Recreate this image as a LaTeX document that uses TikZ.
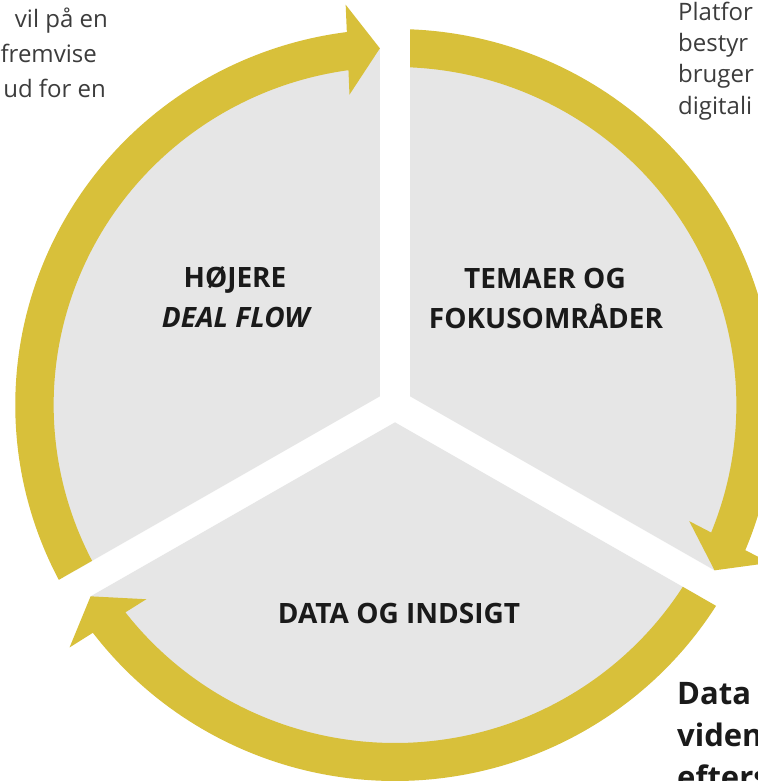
\documentclass[tikz,border=0pt]{standalone}
\usepackage{fontspec}
\setmainfont{Open Sans}
\usetikzlibrary{calc}
\definecolor{ringcol}{RGB}{216,192,58}
\definecolor{sectorcol}{RGB}{230,230,230}
\definecolor{smalltxt}{RGB}{60,60,60}
\definecolor{labeltxt}{RGB}{26,26,26}
\tikzset{
  label28/.style={inner sep=0pt, anchor=base, text=labeltxt, font=\bfseries\fontsize{28}{34}\selectfont},
  smallW/.style={inner sep=0pt, anchor=base west, text=smalltxt, font=\fontsize{24}{30}\selectfont},
  smallE/.style={inner sep=0pt, anchor=base east, text=smalltxt, font=\fontsize{24}{30}\selectfont},
  bigW/.style={inner sep=0pt, anchor=base west, text=labeltxt, font=\bfseries\fontsize{31}{38}\selectfont},
}
\newcommand{\sectorfill}[1]{%
  \pgfmathsetmacro\sA{#1-60+2.408}%
  \pgfmathsetmacro\sB{#1+60-2.408}%
  \fill[sectorcol] (#1:17.32) -- (\sA:357) arc[start angle=\sA, end angle=\sB, radius=357] -- cycle;}
\newcommand{\cyclearrow}[1]{%
  \pgfmathsetmacro\tA{#1+60-2.287}%
  \pgfmathsetmacro\tB{#1+60-2.544}%
  \pgfmathsetmacro\hT{#1-60+2.408}%
  \pgfmathsetmacro\hO{\hT+4.88}%
  \pgfmathsetmacro\hI{\hT+5.43}%
  \pgfmathsetmacro\hN{\hT+90}%
  \fill[ringcol] (\tA:376) arc[start angle=\tA, end angle=\hO, radius=376]
    -- ($(\hT:402)+(\hN:32)$) -- (\hT:357) -- ($(\hT:312)+(\hN:32)$)
    -- (\hI:338) arc[start angle=\hI, end angle=\tB, radius=338] -- cycle;}
\begin{document}
\begin{tikzpicture}[x=1pt,y=1pt]
\useasboundingbox (0,0) rectangle (757,-781);
\fill[white] (0,0) rectangle (757,-781);
\begin{scope}[shift={(395,-405)}, xscale=1.01]
  \sectorfill{150}
  \sectorfill{30}
  \sectorfill{270}
  \cyclearrow{150}
  \cyclearrow{30}
  \cyclearrow{270}
\end{scope}
% sector labels
\node[label28] (hoj) at (235,-287) {HØJERE};
\node[label28] (deal) at (237,-327) {\textit{DEAL FLOW}};
\node[label28] (tem) at (545,-288) {TEMAER OG};
\node[label28] (fok) at (546,-328) {FOKUSOMRÅDER};
\node[label28] (dat) at (399,-623) {DATA OG INDSIGT};
% cut-off texts, top left
\node[smallE] (tl1) at (108,-28) {vil på en};
\node[smallE] (tl2) at (97,-63) {fremvise};
\node[smallE] (tl3) at (106,-98) {ud for en};
% top right
\node[smallW] (tr1) at (678,-21) {Platfor};
\node[smallW] (tr2) at (678,-52) {bestyr};
\node[smallW] (tr3) at (678,-83) {bruger};
\node[smallW] (tr4) at (678,-114) {digitali};
% bottom right
\node[bigW] (br1) at (677,-704) {Data};
\node[bigW] (br2) at (677,-746) {viden};
\node[bigW] (br3) at (677,-788) {efters};
\end{tikzpicture}
\end{document}
